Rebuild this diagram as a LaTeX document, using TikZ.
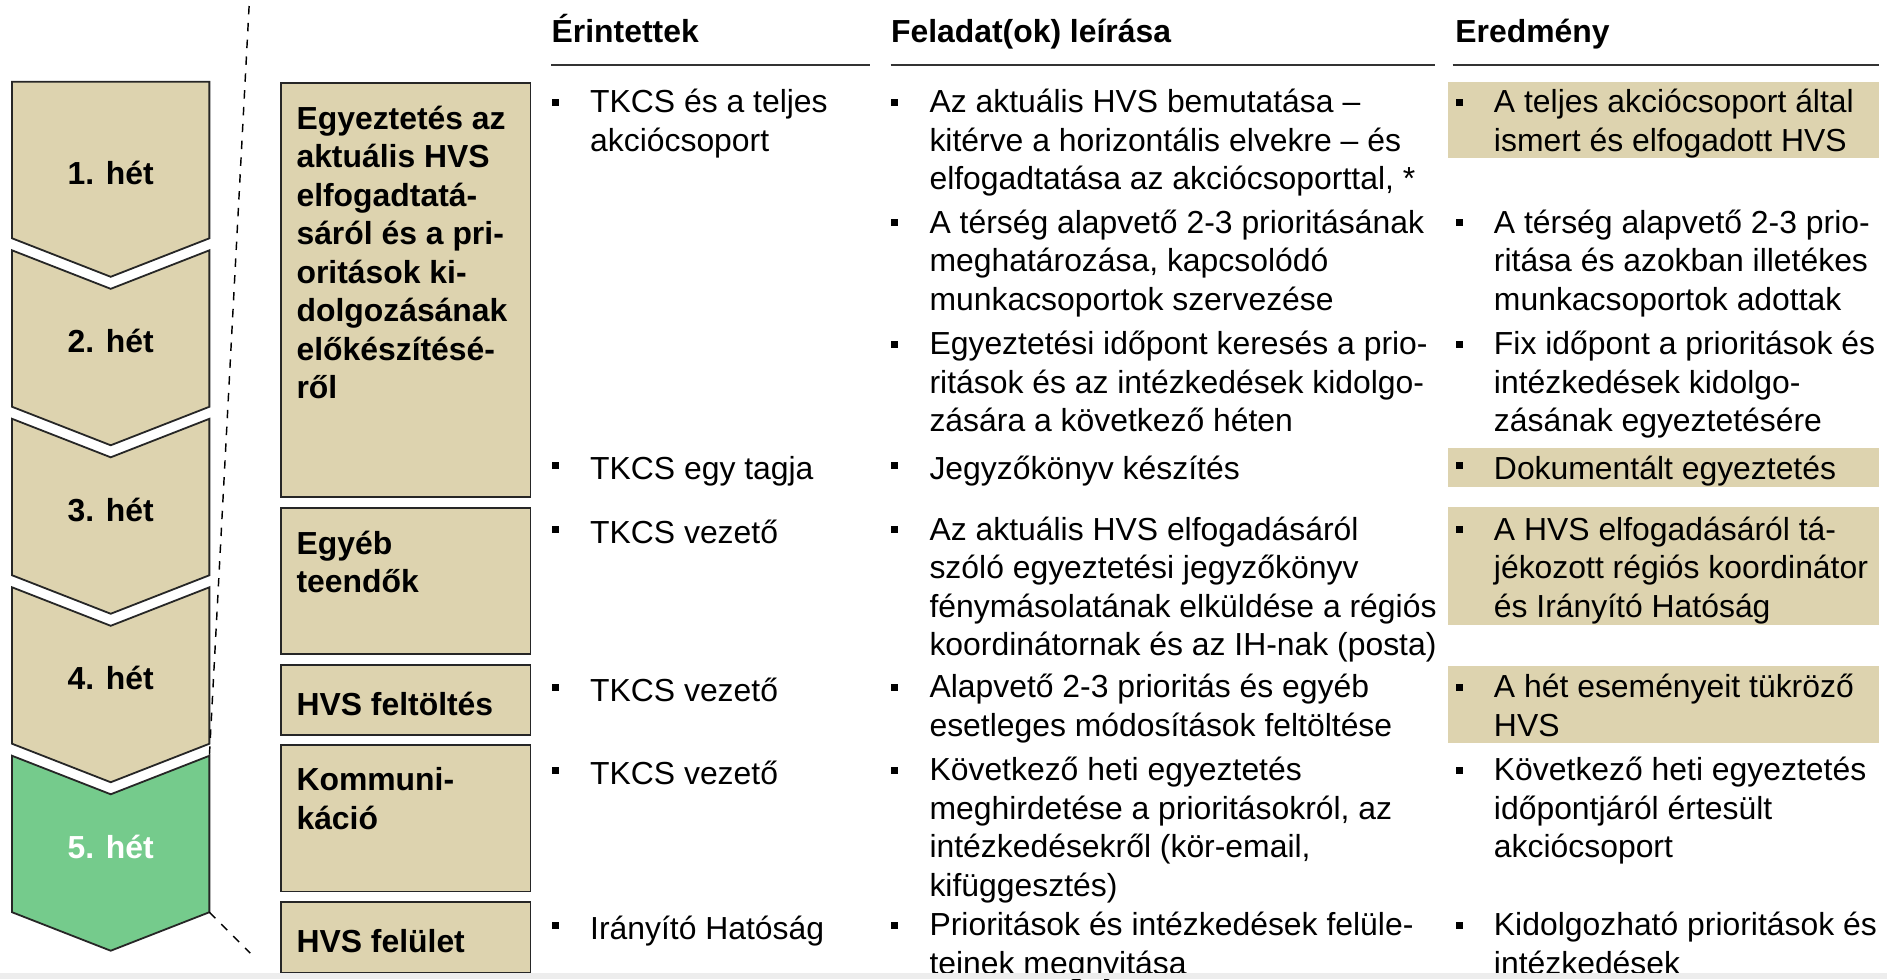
\documentclass[tikz,border=0pt]{standalone}
\usepackage{fontspec}
\setmainfont{Liberation Sans}
\usetikzlibrary{positioning,calc}
\definecolor{homok}{RGB}{221,211,175}
\definecolor{zold}{RGB}{117,203,140}
\newcommand{\betu}{\fontsize{13.25}{16}\selectfont}
\newcommand{\tamasz}{\rule{0pt}{11.2pt}}
\newcommand{\tetel}[4]{%
  \node[tetel] (#1) at (#2,#3-19.2) {#4};
  \fill ($(#1.north west)+(-31.5,8.2)$) rectangle ++(6,6);}

\begin{document}
\begin{tikzpicture}[x=0.5pt,y=-0.5pt]
  \tikzstyle{tetel}=[anchor=north west, inner sep=0pt, align=left, font=\betu, execute at begin node=\tamasz]
  \tikzstyle{cim}=[tetel, font=\betu\bfseries]
  \tikzstyle{fejlec}=[anchor=base west, inner sep=0pt, font=\betu\bfseries]
  \tikzstyle{het}=[anchor=base, inner sep=0pt, font=\betu\bfseries]
  \tikzstyle{doboz}=[draw=black!85, fill=homok, line width=0.8pt, anchor=north west, inner sep=0pt, minimum width=103.5pt]
  \tikzstyle{nyil}=[draw=black!85, line width=0.75pt]
  \tikzstyle{szaggatott}=[black, line width=0.6pt, dash pattern=on 3.5pt off 3.5pt]
  \tikzstyle{vonal}=[black!80, line width=1pt]

  \useasboundingbox (0,0) rectangle (1568,813.5);
  \clip (0,0) rectangle (1568,813.5);

  % hetek
  \foreach \i/\szin/\betuszin in {1/homok/black,2/homok/black,3/homok/black,4/homok/black,5/zold/white} {
    \pgfmathsetmacro{\fent}{68+140*(\i-1)}
    \pgfmathsetmacro{\mely}{\i==1 ? 0 : 32}
    \draw[nyil, fill=\szin] (10,\fent) -- (92,\fent+\mely) -- (174,\fent) -- (174,\fent+130)
      -- (92,\fent+162) -- (10,\fent+130) -- cycle;
    \coordinate (ne\i) at (174,\fent);
    \coordinate (se\i) at (174,\fent+130);
    \node[het, text=\betuszin] (het\i) at (92,\fent+85) {\i. hét};
  }
  \coordinate (fent) at (207,5);
  \coordinate (lent) at (208,792);
  \draw[szaggatott] (fent) -- (ne5);
  \draw[szaggatott] (se5) -- (lent);

  % feladatok
  \node[doboz, minimum height=172pt] (d1) at (233,68) {};
  \node[doboz, minimum height=61pt] (d2) at (233,421) {};
  \node[doboz, minimum height=29pt] (d3) at (233,552) {};
  \node[doboz, minimum height=61pt] (d4) at (233,618) {};
  \node[doboz, minimum height=29.5pt] (d5) at (233,749) {};
  \node[cim] (c1) at ($(d1.north west)+(13,19.6)$) {Egyeztetés az\\aktuális HVS\\elfogadtatá-\\sáról és a pri-\\oritások ki-\\dolgozásának\\előkészítésé-\\ről};
  \node[cim] (c2) at ($(d2.north west)+(13,19.6)$) {Egyéb\\teendők};
  \node[cim] (c3) at ($(d3.north west)+(13,19.6)$) {HVS feltöltés};
  \node[cim] (c4) at ($(d4.north west)+(13,19.6)$) {Kommuni-\\káció};
  \node[cim] (c5) at ($(d5.north west)+(13,19.6)$) {HVS felület};

  % fejlec
  \node[fejlec] (ert) at (458,35) {Érintettek};
  \node[fejlec] (fel) at (740,35) {Feladat(ok) leírása};
  \node[fejlec] (ered) at (1209,35) {Eredmény};
  \draw[vonal] (458,54) -- (723,54);
  \draw[vonal] (740,54) -- (1192,54);
  \draw[vonal] (1207,54) -- (1561,54);

  \fill[homok] (1203,68) rectangle (1561,131);
  \fill[homok] (1203,372) rectangle (1561,405);
  \fill[homok] (1203,421) rectangle (1561,519);
  \fill[homok] (1203,553) rectangle (1561,617);

  \tetel{e1}{490}{93}{TKCS és a teljes\\akciócsoport}
  \tetel{e2}{490}{395}{TKCS egy tagja}
  \tetel{e3}{490}{448}{TKCS vezető}
  \tetel{e4}{490}{579}{TKCS vezető}
  \tetel{e5}{490}{648}{TKCS vezető}
  \tetel{e6}{490}{777}{Irányító Hatóság}

  \tetel{f1}{772}{93}{Az aktuális HVS bemutatása –\\kitérve a horizontális elvekre – és\\elfogadtatása az akciócsoporttal, *}
  \tetel{f2}{772}{193}{A térség alapvető 2-3 prioritásának\\meghatározása, kapcsolódó\\munkacsoportok szervezése}
  \tetel{f3}{772}{294}{Egyeztetési időpont keresés a prio-\\ritások és az intézkedések kidolgo-\\zására a következő héten}
  \tetel{f4}{772}{395}{Jegyzőkönyv készítés}
  \tetel{f5}{772}{448}{Az aktuális HVS elfogadásáról\\szóló egyeztetési jegyzőkönyv\\fénymásolatának elküldése a régiós\\koordinátornak és az IH-nak (posta)}
  \tetel{f6}{772}{579}{Alapvető 2-3 prioritás és egyéb\\esetleges módosítások feltöltése}
  \tetel{f7}{772}{648}{Következő heti egyeztetés\\meghirdetése a prioritásokról, az\\intézkedésekről (kör-email,\\kifüggesztés)}
  \tetel{f8}{772}{777}{Prioritások és intézkedések felüle-\\teinek megnyitása}

  \tetel{r1}{1241}{93}{A teljes akciócsoport által\\ismert és elfogadott HVS}
  \tetel{r2}{1241}{193}{A térség alapvető 2-3 prio-\\ritása és azokban illetékes\\munkacsoportok adottak}
  \tetel{r3}{1241}{294}{Fix időpont a prioritások és\\intézkedések kidolgo-\\zásának egyeztetésére}
  \tetel{r4}{1241}{395}{Dokumentált egyeztetés}
  \tetel{r5}{1241}{448}{A HVS elfogadásáról tá-\\jékozott régiós koordinátor\\és Irányító Hatóság}
  \tetel{r6}{1241}{579}{A hét eseményeit tükröző\\HVS}
  \tetel{r7}{1241}{648}{Következő heti egyeztetés\\időpontjáról értesült\\akciócsoport}
  \tetel{r8}{1241}{777}{Kidolgozható prioritások és\\intézkedések}

  \fill[black!7] (0,808.5) rectangle (1568,813.5);
\end{tikzpicture}
\end{document}
